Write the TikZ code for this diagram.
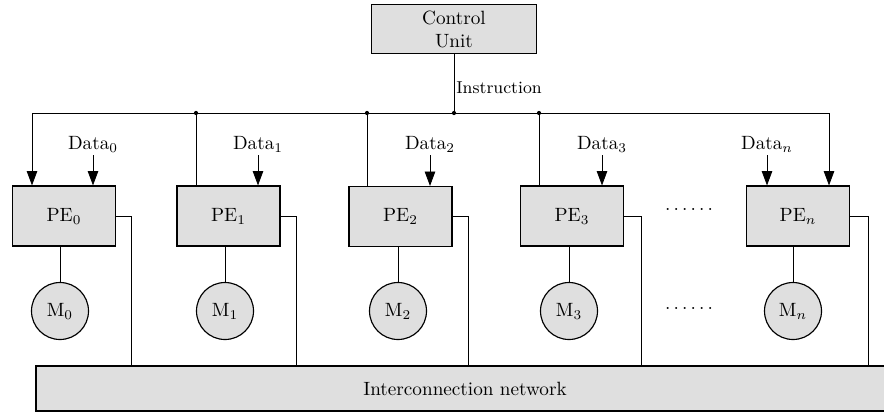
\documentclass[tikz,border=0pt]{standalone}
\usepackage{amsmath}
\usepackage{tikz}
\usetikzlibrary{calc}
\usetikzlibrary{arrows.meta,positioning}

\begin{document}
\begin{tikzpicture}[x=0.183cm,y=-0.183cm,
    box/.style={draw,semithick,fill=gray!25,minimum width=1.885cm,minimum height=1.098cm},
    mem/.style={draw,semithick,circle,fill=gray!25,minimum size=1.043cm,inner sep=0pt},
    arr/.style={-{Triangle[length=7.5pt,width=5.5pt]}},
    lbl/.style={anchor=south,inner sep=1pt}]
      \useasboundingbox (0,0) rectangle (88.4,41.2);
      \node[box,minimum width=3.02cm,minimum height=0.878cm,align=center] (cu) at (45.4,2.9) {Control\\Unit};
      \node[box] (pe0) at (6.4,21.6) {PE$_0$};
      \node[box] (pe1) at (22.85,21.6) {PE$_1$};
      \node[box] (pe2) at (40.05,21.65) {PE$_2$};
      \node[box] (pe3) at (57.2,21.6) {PE$_3$};
      \node[box] (pen) at (79.8,21.6) {PE$_n$};
      \node[draw,semithick,fill=gray!25,minimum width=15.7cm,minimum height=0.824cm] (net) at (46.5,38.85) {Interconnection network};
      \node[mem] (m0) at (6.0,31.1) {M$_0$};
      \node[mem] (m1) at (22.5,31.1) {M$_1$};
      \node[mem] (m2) at (39.8,31.1) {M$_2$};
      \node[mem] (m3) at (56.9,31.1) {M$_3$};
      \node[mem] (mn) at (79.3,31.1) {M$_n$};
      \node[inner sep=0pt] (dots1) at (68.9,20.9) {$\ldots\ldots$};
      \node[inner sep=0pt] (dots2) at (68.9,30.8) {$\ldots\ldots$};
      \node[anchor=west,inner sep=1pt,font=\small] (instr) at (45.4,8.8) {Instruction};
      \coordinate (b0) at (3.2,11.3);
      \coordinate (bn) at (82.9,11.3);
      \coordinate (j1) at (19.6,11.3);
      \coordinate (j2) at (36.7,11.3);
      \coordinate (j3) at (53.9,11.3);
      \draw (cu) -- (cu |- b0);
      \draw (b0) -- (bn);
      \draw[arr] (b0) -- (b0 |- pe0.north);
      \draw[arr] (bn) -- (bn |- pen.north);
      \draw (j1) -- (j1 |- pe1.north);
      \draw (j2) -- (j2 |- pe2.north);
      \draw (j3) -- (j3 |- pe3.north);
      \fill (cu |- b0) circle (1.1pt);
      \fill (j1) circle (1.1pt);
      \fill (j2) circle (1.1pt);
      \fill (j3) circle (1.1pt);
      \node[lbl] (d0) at (9.3,15.5) {Data$_0$};
      \node[lbl] (d1) at (25.8,15.5) {Data$_1$};
      \node[lbl] (d2) at (43.0,15.5) {Data$_2$};
      \node[lbl] (d3) at (60.2,15.5) {Data$_3$};
      \node[lbl] (dn) at (76.7,15.5) {Data$_n$};
      \draw[arr] (d0) -- (d0 |- pe0.north);
      \draw[arr] (d1) -- (d1 |- pe1.north);
      \draw[arr] (d2) -- (d2 |- pe2.north);
      \draw[arr] (d3) -- (d3 |- pe3.north);
      \draw[arr] (dn) -- (dn |- pen.north);
      \draw (m0) -- (m0 |- pe0.south);
      \draw (m1) -- (m1 |- pe1.south);
      \draw (m2) -- (m2 |- pe2.south);
      \draw (m3) -- (m3 |- pe3.south);
      \draw (mn) -- (mn |- pen.south);
      \draw (pe0.east) -- ++(1.5,0) coordinate (r0) -- (r0 |- net.north);
      \draw (pe1.east) -- ++(1.6,0) coordinate (r1) -- (r1 |- net.north);
      \draw (pe2.east) -- ++(1.6,0) coordinate (r2) -- (r2 |- net.north);
      \draw (pe3.east) -- ++(1.7,0) coordinate (r3) -- (r3 |- net.north);
      \draw (pen.east) -- ++(1.8,0) coordinate (rn) -- (rn |- net.north);
    \end{tikzpicture}
\end{document}
